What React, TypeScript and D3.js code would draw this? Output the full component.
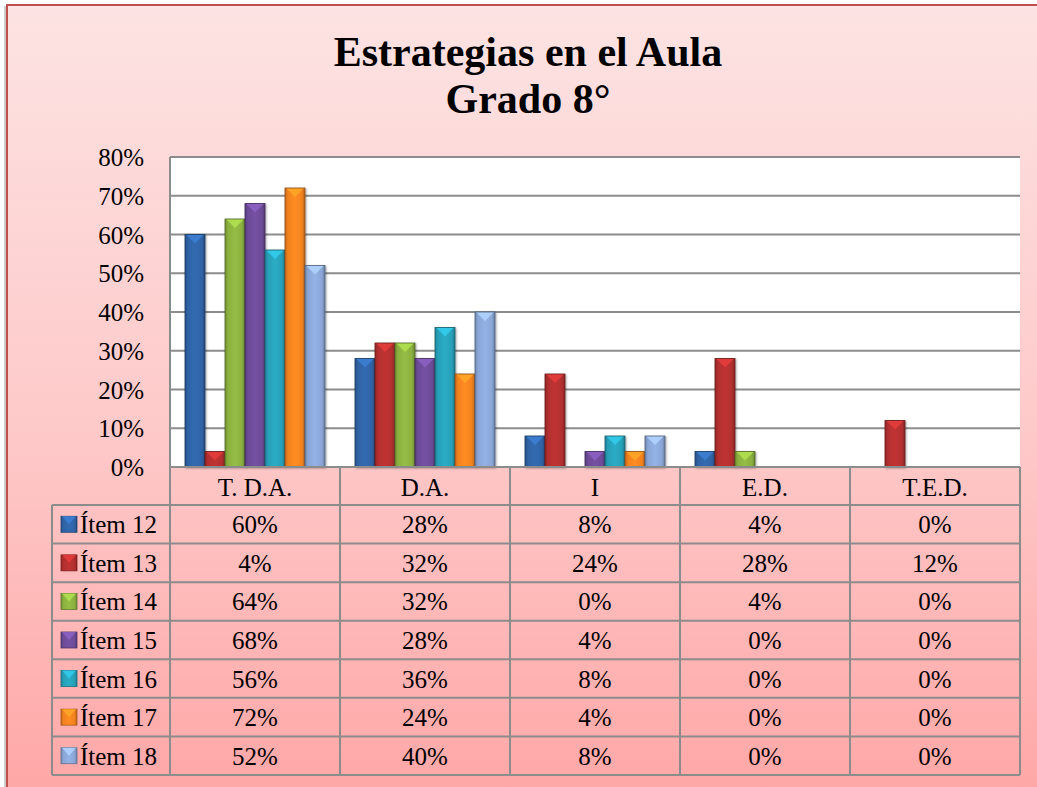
import * as d3 from 'd3'

const categories = ['T. D.A.', 'D.A.', 'I', 'E.D.', 'T.E.D.']
const seriesNames = ['Ítem 12', 'Ítem 13', 'Ítem 14', 'Ítem 15', 'Ítem 16', 'Ítem 17', 'Ítem 18']
const item12 = [60, 28, 8, 4, 0]
const item13 = [4, 32, 24, 28, 12]
const item14 = [64, 32, 0, 4, 0]
const item15 = [68, 28, 4, 0, 0]
const item16 = [56, 36, 8, 0, 0]
const item17 = [72, 24, 4, 0, 0]
const item18 = [52, 40, 8, 0, 0]
const seriesValues = [item12, item13, item14, item15, item16, item17, item18]
const colors = ['#2f63a5', '#b32f2f', '#8bb03f', '#6d4b98', '#27a0b8', '#f2821f', '#8aa6d6']
const yTicks = [0, 10, 20, 30, 40, 50, 60, 70, 80]

const W = 1037
const H = 787
const font = '"Liberation Serif", "Times New Roman", serif'

export default function App() {
  const plot = { left: 170, right: 1020, top: 157, bottom: 467 }
  const x = d3.scaleBand<string>().domain(categories).range([plot.left, plot.right])
  const inner = d3
    .scaleBand<string>()
    .domain(seriesNames)
    .range([0, x.bandwidth()])
    .paddingOuter(0.75)
  const y = d3.scaleLinear().domain([0, 80]).range([plot.bottom, plot.top])
  const rows = d3.scaleBand<string>().domain(seriesNames).range([505, 775])
  const tableLeft = 52

  const lighten = (c: string, k: number) => d3.color(c)!.brighter(k).formatHex()
  const darken = (c: string, k: number) => d3.color(c)!.darker(k).formatHex()

  return (
    <svg width={W} height={H} style={{ position: 'absolute', left: 0, top: 0, display: 'block' }}>
      <defs>
        <linearGradient id="bg" x1="0" y1="0" x2="0" y2="1">
          <stop offset="0%" stopColor="#fde3e3" />
          <stop offset="55%" stopColor="#fec8c8" />
          <stop offset="100%" stopColor="#ffa6a6" />
        </linearGradient>
        {colors.map((c, i) => (
          <linearGradient key={i} id={`bar${i}`} x1="0" y1="0" x2="1" y2="0">
            <stop offset="0%" stopColor={darken(c, 0.6)} />
            <stop offset="15%" stopColor={c} />
            <stop offset="50%" stopColor={lighten(c, 0.2)} />
            <stop offset="85%" stopColor={c} />
            <stop offset="100%" stopColor={darken(c, 0.8)} />
          </linearGradient>
        ))}
        <filter id="shadow" x="-20%" y="-20%" width="140%" height="140%">
          <feDropShadow dx="1" dy="1" stdDeviation="1.2" floodColor="#000" floodOpacity="0.35" />
        </filter>
      </defs>

      <rect x={4} y={6} width={W} height={H} fill="#999" opacity={0.5} />
      <rect x={7} y={5} width={W + 10} height={H + 10} fill="url(#bg)" stroke="#c0504d" strokeWidth={2} />

      <text x={528} y={66} textAnchor="middle" fontFamily={font} fontWeight="bold" fontSize={42}>
        Estrategias en el Aula
      </text>
      <text x={528} y={113} textAnchor="middle" fontFamily={font} fontWeight="bold" fontSize={42}>
        Grado 8°
      </text>

      {/* plot area */}
      <rect x={plot.left} y={plot.top} width={plot.right - plot.left} height={plot.bottom - plot.top} fill="#fff" />
      {yTicks.map(t => (
        <g key={t}>
          <line x1={plot.left} x2={plot.right} y1={y(t)} y2={y(t)} stroke="#8c8c8c" strokeWidth={2} />
          <text x={144} y={y(t) + 9} textAnchor="end" fontFamily={font} fontSize={25}>
            {t}%
          </text>
        </g>
      ))}
      <line x1={plot.left} x2={plot.left} y1={plot.top} y2={plot.bottom} stroke="#8c8c8c" strokeWidth={2} />

      {/* bars */}
      {categories.map((cat, ci) => (
        <g key={cat}>
          {seriesNames.map((s, si) => {
            const v = seriesValues[si][ci]
            if (v <= 0) return null
            const bx = x(cat)! + inner(s)!
            const bw = inner.bandwidth()
            const by = y(v)
            const bh = y(0) - by
            const tri = Math.min(bw * 0.45, bh)
            return (
              <g key={s} filter="url(#shadow)">
                <rect x={bx} y={by} width={bw} height={bh} fill={`url(#bar${si})`} />
                <polygon
                  points={`${bx + 1},${by} ${bx + bw - 1},${by} ${bx + bw / 2},${by + tri}`}
                  fill={lighten(colors[si], 0.7)}
                  opacity={0.85}
                />
                <rect x={bx} y={by} width={bw} height={bh} fill="none" stroke={darken(colors[si], 1.5)} strokeWidth={0.8} />
              </g>
            )
          })}
        </g>
      ))}

      {/* data table */}
      <g stroke="#8c8c8c" strokeWidth={2} fill="none">
        <line x1={plot.left} x2={plot.right} y1={plot.bottom} y2={plot.bottom} />
        {seriesNames.map(s => (
          <line key={s} x1={tableLeft} x2={plot.right} y1={rows(s)!} y2={rows(s)!} />
        ))}
        <line x1={tableLeft} x2={plot.right} y1={775} y2={775} />
        <line x1={tableLeft} x2={tableLeft} y1={505} y2={775} />
        {categories.map(c => (
          <line key={c} x1={x(c)!} x2={x(c)!} y1={plot.bottom} y2={775} />
        ))}
        <line x1={plot.right} x2={plot.right} y1={plot.bottom} y2={775} />
      </g>
      {categories.map(c => (
        <text key={c} x={x(c)! + x.bandwidth() / 2} y={496} textAnchor="middle" fontFamily={font} fontSize={25}>
          {c}
        </text>
      ))}
      {seriesNames.map((s, si) => {
        const ry = rows(s)! + rows.bandwidth() / 2
        return (
          <g key={s}>
            <rect x={61} y={ry - 8} width={16} height={16} fill={`url(#bar${si})`} stroke={darken(colors[si], 1)} strokeWidth={0.8} />
            <polygon points={`${62},${ry - 8} ${76},${ry - 8} ${69},${ry}`} fill={lighten(colors[si], 0.7)} opacity={0.85} />
            <text x={80} y={ry + 9} fontFamily={font} fontSize={25}>
              {s}
            </text>
            {categories.map((c, ci) => (
              <text key={c} x={x(c)! + x.bandwidth() / 2} y={ry + 9} textAnchor="middle" fontFamily={font} fontSize={25}>
                {seriesValues[si][ci]}%
              </text>
            ))}
          </g>
        )
      })}
    </svg>
  )
}
